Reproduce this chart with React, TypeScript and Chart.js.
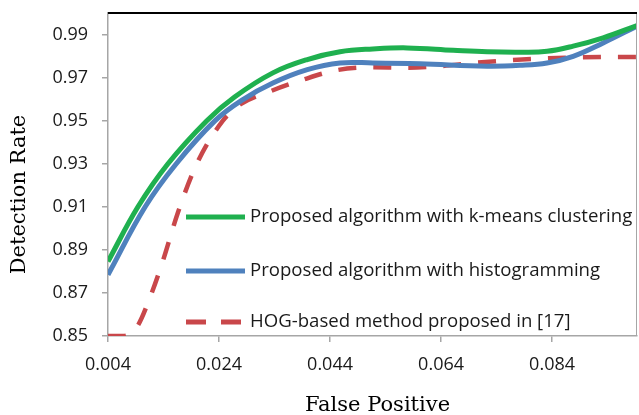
import React, { useEffect, useRef } from 'react';
import { Chart, registerables } from 'chart.js';

Chart.register(...registerables);

// ---- data ----
const seriesLabels = [
  'Proposed algorithm with k-means clustering',
  'Proposed algorithm with histogramming',
  'HOG-based method proposed in [17]',
];

const kmeansX = [0.004, 0.0094, 0.0148, 0.0218, 0.0268, 0.0337, 0.0399, 0.0458, 0.0517, 0.0579, 0.0662, 0.0723, 0.0782, 0.0831, 0.0878, 0.0932, 0.0993];
const kmeansY = [0.8846, 0.91, 0.93, 0.95, 0.961, 0.9722, 0.9784, 0.982, 0.9833, 0.9838, 0.9827, 0.982, 0.9818, 0.9822, 0.9846, 0.9885, 0.9942];

const histX = [0.004, 0.0107, 0.0163, 0.0233, 0.0283, 0.0337, 0.0399, 0.0458, 0.0517, 0.0602, 0.0723, 0.0782, 0.0831, 0.0878, 0.0932, 0.0993];
const histY = [0.8784, 0.91, 0.93, 0.95, 0.9598, 0.9675, 0.9737, 0.9768, 0.9768, 0.9764, 0.9753, 0.9757, 0.9768, 0.9799, 0.9861, 0.9939];

const hogX = [0.004, 0.0067, 0.0092, 0.0116, 0.0139, 0.0166, 0.02, 0.0247, 0.0278, 0.0332, 0.0391, 0.0453, 0.0512, 0.0579, 0.0638, 0.0698, 0.0759, 0.0818, 0.0885, 0.0993];
const hogY = [0.85, 0.85, 0.8542, 0.8681, 0.885, 0.9074, 0.93, 0.95, 0.9575, 0.9636, 0.969, 0.9735, 0.9748, 0.9746, 0.9753, 0.9768, 0.978, 0.9788, 0.9794, 0.9796];

const xTicks = [0.004, 0.024, 0.044, 0.064, 0.084];
const xTickLabels = ['0.004', '0.024', '0.044', '0.064', '0.084'];
const yTicks = [0.85, 0.87, 0.89, 0.91, 0.93, 0.95, 0.97, 0.99];
const yTickLabels = ['0.85', '0.87', '0.89', '0.91', '0.93', '0.95', '0.97', '0.99'];

const xTitle = 'False Positive';
const yTitle = 'Detection Rate';

const GREEN = '#1fb04f';
const BLUE = '#4f81bd';
const RED = '#c9474a';
const AXIS = '#a6a6a6';
const TICK_FONT = '"Open Sans", "Noto Sans", sans-serif';
const SERIF = '"DejaVu Serif", "Liberation Serif", serif';

const zip = (xs: number[], ys: number[]) => xs.map((x, i) => ({ x, y: ys[i] }));

const framePlugin = {
  id: 'frame',
  afterDraw(chart: any) {
    const { ctx, chartArea: a } = chart;
    ctx.save();
    ctx.strokeStyle = AXIS;
    ctx.lineWidth = 1;
    ctx.beginPath();
    ctx.moveTo(a.right - 0.5, a.top);
    ctx.lineTo(a.right - 0.5, a.bottom);
    ctx.stroke();
    ctx.strokeStyle = '#000';
    ctx.lineWidth = 2;
    ctx.beginPath();
    ctx.moveTo(a.left, a.top);
    ctx.lineTo(a.right, a.top);
    ctx.stroke();

    // axis titles
    ctx.fillStyle = '#000';
    ctx.font = `21px ${SERIF}`;
    ctx.textAlign = 'center';
    ctx.textBaseline = 'alphabetic';
    ctx.fillText(xTitle, (a.left + a.right) / 2 + 5, 411);
    ctx.translate(25, (a.top + a.bottom) / 2 + 20);
    ctx.rotate(-Math.PI / 2);
    ctx.fillText(yTitle, 0, 0);
    ctx.restore();
  },
};

const legendPlugin = {
  id: 'inlineLegend',
  afterDatasetsDraw(chart: any) {
    const { ctx, chartArea: a } = chart;
    const x0 = a.left + 78;
    const x1 = a.left + 137;
    const rows = [a.top + 204, a.top + 258, a.top + 309];
    chart.data.datasets.forEach((ds: any, i: number) => {
      const y = rows[i];
      ctx.save();
      ctx.strokeStyle = ds.borderColor;
      ctx.lineWidth = 5;
      ctx.lineCap = 'butt';
      ctx.setLineDash(ds.borderDash ? [20, 15] : []);
      ctx.beginPath();
      ctx.moveTo(x0, y);
      ctx.lineTo(x1, y);
      ctx.stroke();
      ctx.setLineDash([]);
      ctx.fillStyle = '#1a1a1a';
      ctx.font = `18.6px ${TICK_FONT}`;
      ctx.textBaseline = 'middle';
      ctx.textAlign = 'left';
      ctx.fillText(ds.label, x1 + 5, y);
      ctx.restore();
    });
  },
};

export default function App() {
  const ref = useRef<HTMLCanvasElement | null>(null);

  useEffect(() => {
    if (!ref.current) return;
    const chart = new Chart(ref.current, {
      type: 'line',
      data: {
        datasets: [
          {
            label: seriesLabels[0],
            data: zip(kmeansX, kmeansY),
            borderColor: GREEN,
            borderWidth: 5,
            pointRadius: 0,
            tension: 0.4,
          },
          {
            label: seriesLabels[1],
            data: zip(histX, histY),
            borderColor: BLUE,
            borderWidth: 5,
            pointRadius: 0,
            tension: 0.4,
          },
          {
            label: seriesLabels[2],
            data: zip(hogX, hogY),
            borderColor: RED,
            borderWidth: 4.5,
            borderDash: [18, 17],
            pointRadius: 0,
            cubicInterpolationMode: 'monotone',
          },
        ],
      },
      options: {
        animation: false,
        responsive: false,
        devicePixelRatio: 1,
        layout: { padding: { top: 13, right: 2, left: 0, bottom: 0 } },
        plugins: { legend: { display: false }, tooltip: { enabled: false } },
        scales: {
          x: {
            type: 'linear',
            min: 0.004,
            max: 0.0993,
            afterBuildTicks: (s: any) => {
              s.ticks = xTicks.map((v) => ({ value: v }));
            },
            afterFit: (s: any) => {
              s.height = 79;
              s.paddingLeft = 0;
              s.paddingRight = 0;
            },
            ticks: {
              autoSkip: false,
              maxRotation: 0,
              padding: 12,
              color: '#1a1a1a',
              font: { family: TICK_FONT, size: 18 },
              callback: (v: any) => {
                const i = xTicks.findIndex((t) => Math.abs(t - v) < 1e-9);
                return i >= 0 ? xTickLabels[i] : '';
              },
            },
            grid: { drawOnChartArea: false, drawTicks: true, tickLength: 6, color: AXIS, lineWidth: 1.5 },
            border: { display: true, color: AXIS, width: 1.5 },
            title: { display: false },
          },
          y: {
            type: 'linear',
            min: 0.85,
            max: 1.0,
            afterBuildTicks: (s: any) => {
              s.ticks = yTicks.map((v) => ({ value: v }));
            },
            afterFit: (s: any) => {
              s.width = 108;
              s.paddingTop = 0;
              s.paddingBottom = 0;
            },
            ticks: {
              autoSkip: false,
              padding: 14,
              color: '#1a1a1a',
              font: { family: TICK_FONT, size: 18 },
              callback: (v: any) => {
                const i = yTicks.findIndex((t) => Math.abs(t - v) < 1e-9);
                return i >= 0 ? yTickLabels[i] : '';
              },
            },
            grid: { drawOnChartArea: false, drawTicks: true, tickLength: 6, color: AXIS, lineWidth: 1.5 },
            border: { display: true, color: AXIS, width: 1.5 },
            title: { display: false },
          },
        },
      } as any,
      plugins: [framePlugin, legendPlugin],
    });
    return () => chart.destroy();
  }, []);

  return (
    <div style={{ position: 'absolute', left: 0, top: 0, width: 639, height: 415, background: '#fff' }}>
      <canvas ref={ref} width={639} height={415} style={{ display: 'block' }} />
    </div>
  );
}
